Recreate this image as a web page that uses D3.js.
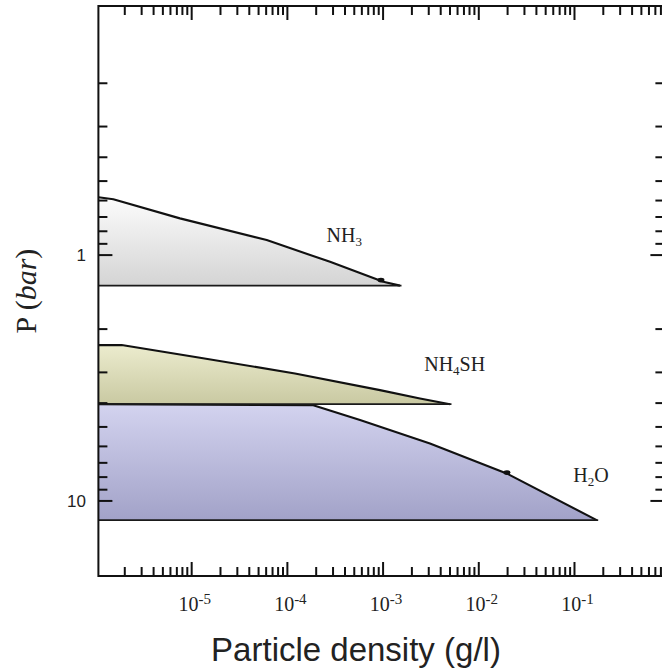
<!DOCTYPE html>
<html><head><meta charset="utf-8">
<script src="https://cdn.jsdelivr.net/npm/d3@7"></script>
<style>body{margin:0;background:#fff}</style>
</head><body>
<svg id="chart" width="662" height="671"></svg>
<script>
// ---------- data ----------
const xTickValues = [1e-5, 1e-4, 1e-3, 1e-2, 1e-1];
const xTickExponents = ["-5", "-4", "-3", "-2", "-1"];
const yTickValues = [1, 10];
const yTickLabels = ["1", "10"];

const nh3Density  = [1.06e-6, 1.517e-6, 7.54e-6, 6.08e-5, 2.79e-4, 1.005e-3, 1.502e-3];
const nh3Pressure = [0.582, 0.593, 0.709, 0.869, 1.065, 1.284, 1.331];

const nh4shDensity  = [1.06e-6, 1.855e-6, 1.221e-5, 1.20e-4, 9.28e-4, 2.43e-3, 5.0e-3];
const nh4shPressure = [2.323, 2.323, 2.617, 3.029, 3.542, 3.83, 4.04];

const h2oDensity  = [1.06e-6, 1.865e-4, 5.74e-4, 3.09e-3, 1.956e-2, 0.1706];
const h2oPressure = [4.04, 4.08, 4.69, 5.84, 7.73, 11.97];

const kinkDensity  = [9.5e-4, 0.0197];
const kinkPressure = [1.264, 7.67];

// ---------- layout ----------
const svg = d3.select("#chart");
const x = d3.scaleLog().domain([1.06e-6, 0.87]).range([98.4, 664.4]);
const y = d3.scaleLog().domain([0.097, 20.2]).range([6, 576]);
const [x0, x1] = x.range();
const [y0, y1] = y.range();

const defs = svg.append("defs");
function grad(id, top, bottom) {
  const g = defs.append("linearGradient").attr("id", id)
    .attr("x1", 0).attr("y1", 0).attr("x2", 0).attr("y2", 1);
  g.append("stop").attr("offset", "0%").attr("stop-color", top);
  g.append("stop").attr("offset", "100%").attr("stop-color", bottom);
}
grad("gH2O", "#d3d3ef", "#a2a2c8");
grad("gNH4SH", "#ececce", "#c9c9a2");
grad("gNH3", "#fcfcfc", "#d4d4d4");

const series = [
  {name: "H2O", dens: h2oDensity, pres: h2oPressure, fill: "url(#gH2O)"},
  {name: "NH4SH", dens: nh4shDensity, pres: nh4shPressure, fill: "url(#gNH4SH)"},
  {name: "NH3", dens: nh3Density, pres: nh3Pressure, fill: "url(#gNH3)"}
];

const line = d3.line().x(d => x(d[0])).y(d => y(d[1]));

series.forEach(s => {
  const pts = s.dens.map((d, i) => [d, s.pres[i]]);
  const base = s.pres[s.pres.length - 1];
  const xmin = x.domain()[0];
  const poly = pts.concat([[xmin, base]]);
  svg.append("path").attr("d", line(poly) + "Z").attr("fill", s.fill).attr("stroke", "none");
});
series.forEach(s => {
  const pts = s.dens.map((d, i) => [d, s.pres[i]]);
  const base = s.pres[s.pres.length - 1];
  svg.append("path").attr("d", line(pts)).attr("fill", "none")
    .attr("stroke", "#111").attr("stroke-width", 2.1).attr("stroke-linejoin", "round");
  svg.append("line")
    .attr("x1", x(x.domain()[0])).attr("x2", x(s.dens[s.dens.length - 1]) + 1.5)
    .attr("y1", y(base)).attr("y2", y(base))
    .attr("stroke", "#1a1a1a").attr("stroke-width", 1.8);
});
kinkDensity.forEach((d, i) => {
  svg.append("ellipse").attr("cx", x(d)).attr("cy", y(kinkPressure[i]))
    .attr("rx", 3.5).attr("ry", 2.3).attr("fill", "#111");
});

// ---------- axes ----------
const ax = svg.append("g").attr("stroke", "#111").attr("stroke-width", 2);
ax.append("rect").attr("x", x0).attr("y", y0).attr("width", x1 - x0).attr("height", y1 - y0)
  .attr("fill", "none");

const xMinor = [];
for (let k = -6; k <= 0; k++) for (let m = 2; m <= 9; m++) {
  const v = m * Math.pow(10, k);
  if (x(v) > x0 + 2 && x(v) < x1 - 2) xMinor.push(v);
}
const yMinor = [];
for (let k = -2; k <= 1; k++) for (let m = 2; m <= 9; m++) {
  const v = m * Math.pow(10, k);
  if (y(v) > y0 + 3 && y(v) < y1 - 3) yMinor.push(v);
}
const MAJ = 14, MIN = 9;
xTickValues.forEach(v => {
  ax.append("line").attr("x1", x(v)).attr("x2", x(v)).attr("y1", y1).attr("y2", y1 - MAJ);
  ax.append("line").attr("x1", x(v)).attr("x2", x(v)).attr("y1", y0).attr("y2", y0 + MAJ);
});
xMinor.forEach(v => {
  ax.append("line").attr("x1", x(v)).attr("x2", x(v)).attr("y1", y1).attr("y2", y1 - MIN);
  ax.append("line").attr("x1", x(v)).attr("x2", x(v)).attr("y1", y0).attr("y2", y0 + MIN);
});
yTickValues.forEach(v => {
  ax.append("line").attr("x1", x0).attr("x2", x0 + MAJ).attr("y1", y(v)).attr("y2", y(v));
  ax.append("line").attr("x1", x1).attr("x2", x1 - MAJ).attr("y1", y(v)).attr("y2", y(v));
});
yMinor.forEach(v => {
  ax.append("line").attr("x1", x0).attr("x2", x0 + MIN).attr("y1", y(v)).attr("y2", y(v));
  ax.append("line").attr("x1", x1).attr("x2", x1 - MIN).attr("y1", y(v)).attr("y2", y(v));
});

// tick labels
xTickValues.forEach((v, i) => {
  const t = svg.append("text").attr("x", x(v) + 3).attr("y", 611)
    .attr("text-anchor", "middle").attr("font-family", "Liberation Serif, Times New Roman, serif")
    .attr("font-size", 20).attr("fill", "#222");
  t.append("tspan").text("10");
  t.append("tspan").attr("dy", -7).attr("font-size", 15).text(xTickExponents[i]);
});
yTickValues.forEach((v, i) => {
  svg.append("text").attr("x", 86).attr("y", y(v) + 6)
    .attr("text-anchor", "end").attr("font-family", "Liberation Sans, Arial, sans-serif")
    .attr("font-size", 17).attr("fill", "#222").text(yTickLabels[i]);
});

// axis titles
svg.append("text").attr("x", 356).attr("y", 661).attr("text-anchor", "middle")
  .attr("font-family", "Liberation Sans, Arial, sans-serif").attr("font-size", 33)
  .attr("fill", "#222").text("Particle density (g/l)");
const yt = svg.append("text").attr("transform", "translate(36,291) rotate(-90)")
  .attr("text-anchor", "middle").attr("font-family", "Liberation Serif, Times New Roman, serif")
  .attr("font-size", 30).attr("fill", "#222");
yt.append("tspan").text("P (");
yt.append("tspan").attr("font-style", "italic").text("bar");
yt.append("tspan").text(")");

// species labels (anchored in data space)
const labelDensity = [2.57e-4, 2.69e-3, 0.0971];
const labelPressure = [0.883, 2.96, 8.35];
const labelParts = [
  [["NH", 0, 20], ["3", 4, 13]],
  [["NH", 0, 20], ["4", 4, 13], ["SH", -4, 20]],
  [["H", 0, 20], ["2", 4, 13], ["O", -4, 20]]
];
labelParts.forEach((parts, i) => {
  const t = svg.append("text").attr("x", x(labelDensity[i])).attr("y", y(labelPressure[i]))
    .attr("font-family", "Liberation Serif, Times New Roman, serif").attr("fill", "#222");
  parts.forEach(p => t.append("tspan").attr("dy", p[1]).attr("font-size", p[2]).text(p[0]));
});
</script>
</body></html>
